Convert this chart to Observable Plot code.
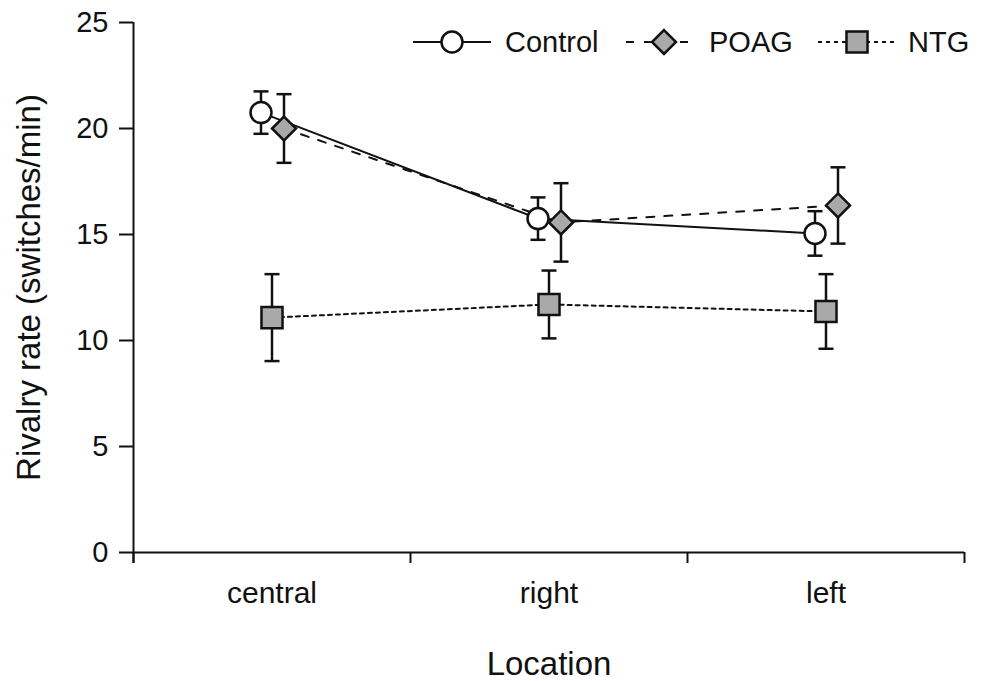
<!DOCTYPE html>
<html>
<head>
<meta charset="utf-8">
<script src="https://cdn.jsdelivr.net/npm/d3@7"></script>
<script src="https://cdn.jsdelivr.net/npm/@observablehq/plot@0.6"></script>
<style>
  html, body { margin: 0; padding: 0; background: #fff; }
  #chart { position: relative; width: 984px; height: 681px; font-family: "Liberation Sans", Arial, sans-serif; }
  #legend { position: absolute; left: 0; top: 0; }
</style>
</head>
<body>
<div id="chart"></div>
<script>
// ---- data ----
const categories = ["central", "right", "left"];
const seriesNames = ["Control", "POAG", "NTG"];
const controlMean = [20.75, 15.75, 15.05];
const controlErr  = [1.0, 1.0, 1.05];
const poagMean    = [20.0, 15.57, 16.37];
const poagErr     = [1.62, 1.85, 1.8];
const ntgMean     = [11.08, 11.7, 11.37];
const ntgErr      = [2.05, 1.6, 1.76];
const yTicks = [0, 5, 10, 15, 20, 25];
const yLabel = "Rivalry rate (switches/min)";
const xLabel = "Location";

// ---- styles ----
const ink = "#111";
const gray = "#a9a9a9";
const styles = {
  Control: {dx: -11, symbol: "circle", r: 10.5, fill: "#fff", dash: null},
  POAG:    {dx: 12, symbol: "diamond2", r: 10.8, fill: gray, dash: "8,10"},
  NTG:     {dx: 0, symbol: "square2", r: 13.4, fill: gray, dash: "4,4"}
};
const means = {Control: controlMean, POAG: poagMean, NTG: ntgMean};
const errs = {Control: controlErr, POAG: poagErr, NTG: ntgErr};

const capSymbol = {
  draw(context) { context.moveTo(-7.5, 0); context.lineTo(7.5, 0); }
};

const seriesMarks = [];
for (const s of seriesNames) {
  const st = styles[s];
  const rows = categories.map((c, i) => ({
    cat: c, x: i + 0.5, mean: means[s][i],
    lo: means[s][i] - errs[s][i], hi: means[s][i] + errs[s][i]
  }));
  seriesMarks.push(
    Plot.line(rows, {x: "x", y: "mean", dx: st.dx, stroke: ink, strokeWidth: 2, strokeDasharray: st.dash})
  );
  seriesMarks.push(
    Plot.ruleX(rows, {x: "x", y1: "lo", y2: "hi", dx: st.dx, stroke: ink, strokeWidth: 2.5})
  );
  seriesMarks.push(
    Plot.dot(rows, {x: "x", y: "lo", dx: st.dx, symbol: capSymbol, r: 4, stroke: ink, fill: "none", strokeWidth: 2.5})
  );
  seriesMarks.push(
    Plot.dot(rows, {x: "x", y: "hi", dx: st.dx, symbol: capSymbol, r: 4, stroke: ink, fill: "none", strokeWidth: 2.5})
  );
}
for (const s of seriesNames) {
  const st = styles[s];
  const rows = categories.map((c, i) => ({x: i + 0.5, mean: means[s][i]}));
  seriesMarks.push(
    Plot.dot(rows, {x: "x", y: "mean", dx: st.dx, symbol: st.symbol, r: st.r, fill: st.fill, stroke: ink, strokeWidth: 2.5})
  );
}

const chart = Plot.plot({
  width: 984,
  height: 681,
  marginLeft: 133,
  marginRight: 20,
  marginTop: 22,
  marginBottom: 129,
  style: {fontFamily: '"Liberation Sans", Arial, sans-serif', color: ink, background: "#fff"},
  x: {domain: [0, categories.length]},
  y: {domain: [0, 25]},
  marks: [
    Plot.ruleX([0], {stroke: ink, strokeWidth: 2, insetBottom: -11}),
    Plot.ruleY([0], {stroke: ink, strokeWidth: 2}),
    Plot.axisY({ticks: yTicks, tickSize: 14, tickPadding: 11, fontSize: 29, label: null, stroke: ink, strokeWidth: 2, strokeOpacity: 1, fill: ink}),
    Plot.axisX({ticks: d3.range(categories.length + 1), tickSize: 11, tickFormat: () => "", label: null, stroke: ink, strokeWidth: 2, strokeOpacity: 1}),
    Plot.axisX({ticks: categories.map((c, i) => i + 0.5), tickSize: 0, tickPadding: 29, fontSize: 30, tickFormat: d => categories[Math.floor(d)], label: null, fill: ink}),
    Plot.text([yLabel], {frameAnchor: "left", textAnchor: "middle", lineAnchor: "middle", rotate: -90, dx: -104, fontSize: 33, fill: ink}),
    Plot.text([xLabel], {frameAnchor: "bottom", textAnchor: "middle", lineAnchor: "middle", dy: 112, fontSize: 33, fill: ink}),
    ...seriesMarks
  ]
});
const container = document.getElementById("chart");
container.appendChild(chart);

// ---- legend ----
const legend = d3.select(container).append("svg")
  .attr("id", "legend").attr("width", 984).attr("height", 80);
const legendItems = [
  {name: seriesNames[0], x1: 413, x2: 491, cx: 452, tx: 505},
  {name: seriesNames[1], x1: 626, x2: 692, cx: 664, tx: 709},
  {name: seriesNames[2], x1: 818, x2: 894, cx: 857, tx: 908}
];
const ly = 42;
for (const it of legendItems) {
  const st = styles[it.name];
  const g = legend.append("g");
  g.append("line").attr("x1", it.x1).attr("x2", it.x2).attr("y1", ly).attr("y2", ly)
    .attr("stroke", ink).attr("stroke-width", 2).attr("stroke-dasharray", st.dash);
  const sym = st.symbol === "circle" ? d3.symbolCircle : st.symbol === "diamond2" ? d3.symbolDiamond2 : d3.symbolSquare2;
  g.append("path").attr("transform", `translate(${it.cx},${ly})`)
    .attr("d", d3.symbol(sym, st.r * st.r * Math.PI)())
    .attr("fill", st.fill).attr("stroke", ink).attr("stroke-width", 2.5);
  g.append("text").attr("x", it.tx).attr("y", ly).attr("dy", "0.35em")
    .attr("font-size", 29).attr("fill", ink)
    .attr("font-family", '"Liberation Sans", Arial, sans-serif')
    .text(it.name);
}
</script>
</body>
</html>
